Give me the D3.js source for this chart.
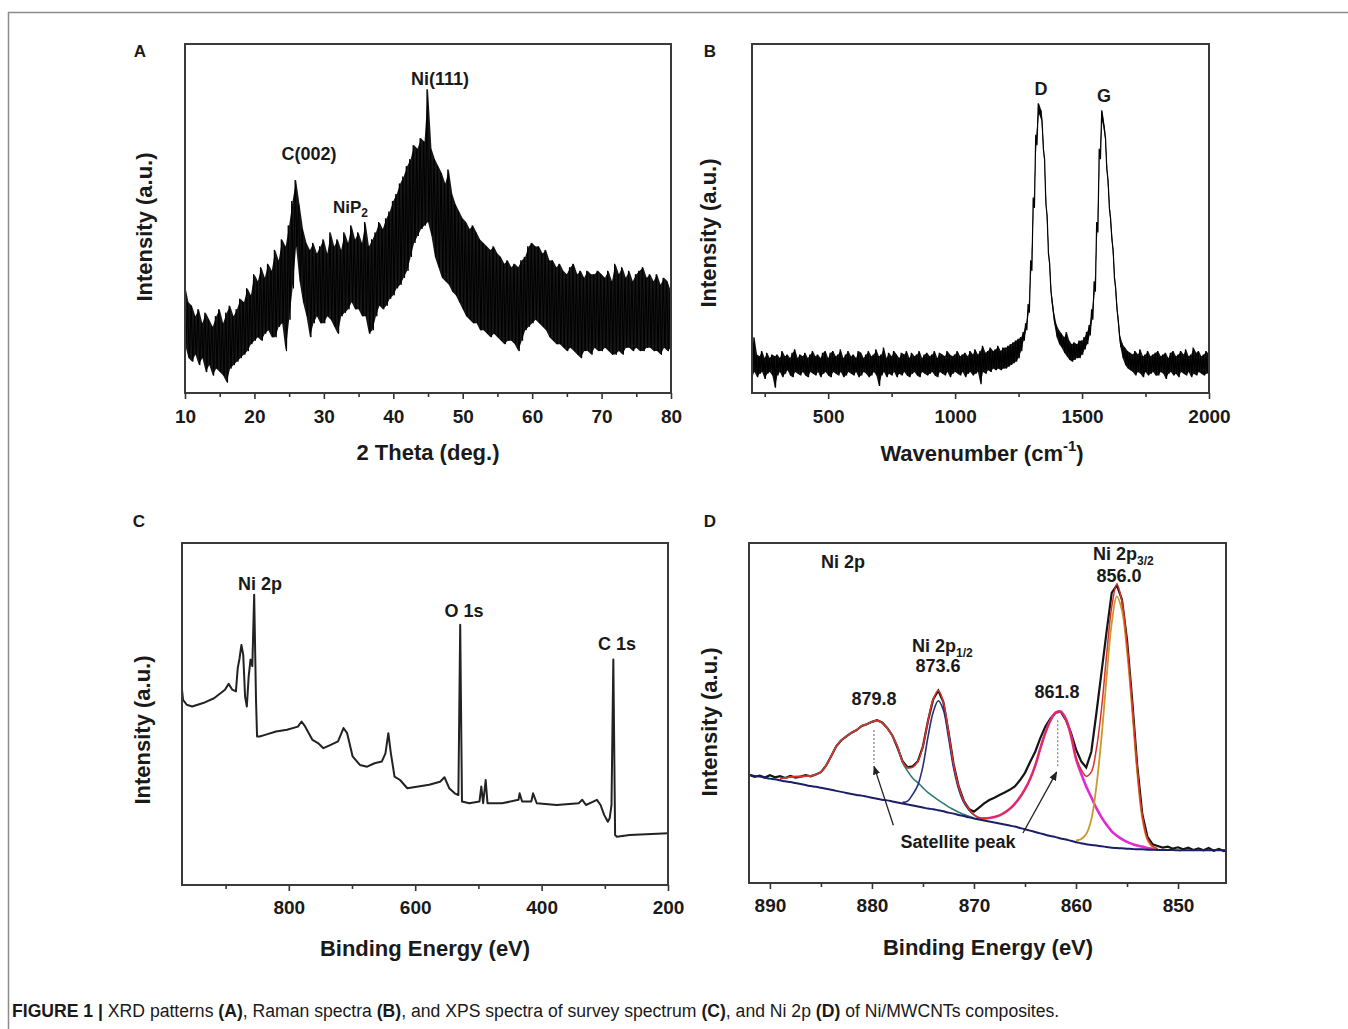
<!DOCTYPE html>
<html lang="en">
<head>
<meta charset="UTF-8">
<script src="https://cdn.jsdelivr.net/npm/d3@7"></script>
<title>Figure 1 - Ni/MWCNTs</title>
<style>
  body { margin: 0; background: #fff; }
  svg text { font-family: "Liberation Sans", Arial, Helvetica, sans-serif; fill: #1a1a1a; }
</style>
</head>
<body>
<svg id="fig" width="1348" height="1029"></svg>
<script>
/* ---------- DATA (intensities in % of the plot height) ---------- */

// A: XRD, min / max of the counts in each 0.5 deg bin, 2theta 10 ... 80
const xrdStart = 10, xrdStep = 0.5;
const xrdHi = [
  31, 26, 25, 22, 24, 20, 23, 21, 19, 22,
  24, 20, 23, 25, 22, 24, 27, 26, 30, 28,
  34, 32, 36, 33, 37, 35, 41, 38, 44, 42,
  48, 55, 61, 54, 47, 43, 41, 43, 40, 42,
  44, 40, 46, 42, 44, 41, 46, 43, 48, 44,
  46, 43, 49, 42, 44, 46, 49, 47, 50, 52,
  55, 57, 60, 62, 65, 67, 71, 70, 73, 72,
  87, 70, 67, 65, 63, 60, 64, 57, 54, 52,
  50, 49, 47, 48, 46, 44, 43, 42, 41, 42,
  40, 39, 37, 38, 36, 37, 36, 38, 39, 42,
  43, 42, 42, 40, 41, 38, 38, 36, 37, 35,
  34, 36, 37, 34, 35, 33, 35, 34, 34, 35,
  34, 33, 35, 32, 37, 34, 36, 33, 35, 32,
  34, 35, 36, 33, 34, 32, 34, 31, 33, 32,
  29
];
const xrdLo = [
  14, 10, 9, 11, 8, 10, 6, 8, 5, 7,
  6, 5, 3, 7, 8, 9, 10, 11, 12, 14,
  15, 16, 15, 17, 18, 16, 16, 19, 20, 12,
  21, 30, 42, 32, 26, 22, 16, 20, 22, 20,
  20, 22, 21, 19, 17, 22, 23, 24, 26, 24,
  24, 22, 22, 17, 18, 22, 25, 24, 25, 27,
  28, 30, 31, 33, 35, 39, 43, 45, 47, 48,
  49, 45, 39, 36, 33, 32, 31, 29, 28, 26,
  24, 22, 21, 20, 20, 18, 18, 17, 16, 17,
  16, 15, 14, 15, 15, 14, 12, 15, 18, 19,
  20, 21, 20, 19, 18, 16, 15, 14, 14, 13,
  12, 13, 12, 11, 10, 12, 12, 11, 13, 12,
  12, 13, 12, 11, 11, 12, 11, 13, 13, 12,
  13, 12, 12, 13, 13, 12, 12, 11, 13, 12,
  13
];
const xrdTicks = [10, 20, 30, 40, 50, 60, 70, 80];
const xrdMinor = [15, 25, 35, 45, 55, 65, 75];

// B: Raman, min / max in each 10 cm-1 bin, 200 ... 2000 cm-1
const ramanStart = 200, ramanStep = 10;
const ramanHi = [
  12, 16, 11, 10.5, 12, 10, 11.5, 10, 11, 10.5,
  11, 10, 12, 10.5, 11, 10, 11.5, 12.5, 10, 11,
  10.5, 11.5, 10, 11, 12, 10.5, 11, 10, 11.5, 12,
  10, 11.5, 12, 10.5, 11, 12.5, 10, 11, 12, 10.5,
  11, 10, 12, 11.5, 10, 11, 12, 10.5, 11, 12.5,
  10.5, 11, 13, 10, 11.5, 10.5, 12, 11, 10, 11.5,
  11, 12, 10, 11.5, 10.5, 11, 12, 10, 11, 11.5,
  10.5, 11, 12, 10, 11.5, 11, 10.5, 12, 11, 10.5,
  11, 12, 10.5, 11, 11.5, 10.5, 12, 11, 12.5, 11,
  12, 13.5, 11.5, 12, 13, 12, 12.5, 13.5, 12, 13,
  13, 13.5, 14, 14.5, 15, 15.5, 16, 17.5, 20, 25.5,
  38, 56, 74, 83, 81, 70, 54, 40, 29, 23,
  19.5, 18, 17, 16, 17.5, 15, 14, 14.5, 14, 15,
  15, 16, 17.5, 19.5, 24, 32, 49, 70, 81, 76,
  64, 53, 44, 33, 24, 16.5, 14, 13, 12, 11.5,
  11, 12, 11, 12.5, 10.5, 11, 12, 10.5, 11, 11.5,
  12, 10.5, 11, 11.5, 10, 11.5, 12, 10.5, 11, 12,
  11, 12.5, 10.5, 11, 13, 11.5, 12, 10.5, 11, 12,
  11
];
const ramanLo = [
  5, 6, 4.5, 5.5, 6, 4, 5.5, 6, 5, 1.5,
  5, 6, 4.5, 5.5, 6.5, 5, 4.5, 6, 5.5, 5,
  6, 5, 4.5, 6, 5.5, 5, 6, 4.5, 5.5, 6,
  5, 4.5, 6, 5.5, 5, 6, 4.5, 5, 6, 5.5,
  5, 6, 4.5, 5, 6, 5.5, 4.5, 5, 6, 5,
  2, 5, 6, 4.5, 5.5, 5, 6, 4.5, 5.5, 5,
  6, 5, 4.5, 5.5, 6, 5, 4.5, 6, 5.5, 5,
  5.5, 6, 5, 4.5, 6, 5.5, 5, 6, 4.5, 5.5,
  6, 5.5, 5, 6, 4.5, 5.5, 6, 5, 5.5, 6,
  2.5, 6, 5.5, 6.5, 6, 7, 6.5, 7, 6.5, 7,
  7, 7.5, 8, 8.5, 9, 10, 12, 15, 18, 23,
  35, 53, 71, 80, 78, 67, 51, 37, 26, 20,
  16, 14, 13, 11.5, 10.5, 9.5, 9, 9.5, 10, 10,
  11, 12.5, 14, 16.5, 21, 29, 46, 67, 78, 73,
  61, 50, 41, 30, 21, 13.5, 10, 8, 7, 6.5,
  6, 5, 6, 5.5, 4.5, 6, 5, 5.5, 6, 5,
  5, 6, 5.5, 4, 5.5, 6, 5, 5.5, 4.5, 6,
  5.5, 5, 6, 4.5, 5.5, 5, 6, 5.5, 5, 5.5,
  6
];
const ramanTicks = [500, 1000, 1500, 2000];
const ramanMinor = [250, 750, 1250, 1750];

// C: XPS survey
const surveyEnergy = [
  969, 967.3, 961.5, 952.9, 935.6, 918.3, 901, 895.2, 889.4, 883.7,
  880.8, 877.9, 875, 872.1, 869.2, 866.4, 863.5, 860.6, 857.7, 854.8,
  851.9, 850.2, 846.2, 837.5, 820.2, 802.9, 785.6, 779.8, 774, 762.5,
  753.8, 745.2, 733.7, 722.1, 713.5, 707.7, 699, 687.5, 676, 664.4,
  652.9, 647.1, 642.5, 638.5, 632.7, 624, 612.5, 595.2, 577.9, 560.6,
  553.7, 546.2, 537.5, 531.7, 528.8, 526, 514.4, 498.3, 495.4, 492.5,
  488.5, 485.6, 462.5, 436.5, 434.8, 430.8, 416.3, 413.5, 407.7, 376,
  341.3, 335.6, 329.8, 318.3, 312.5, 306.7, 301, 295.2, 292.3, 289.4,
  286.5, 283.7, 280.8, 260.6, 200
];
const surveyIntensity = [
  57.1, 54.1, 52.7, 52.2, 53.2, 54.6, 57.1, 58.8, 57.1, 56.6,
  63.4, 66.3, 70.2, 67.3, 55.1, 52.2, 61.0, 65.9, 64.0, 84.9,
  54.1, 43.4, 43.4, 43.9, 44.9, 45.4, 46.3, 47.8, 46.3, 42.4,
  41.5, 40.0, 41.0, 42.0, 45.9, 44.4, 37.6, 35.1, 34.6, 35.6,
  36.1, 38.5, 44.4, 38.5, 31.7, 30.7, 28.3, 28.8, 29.3, 30.2,
  31.5, 28.3, 26.8, 26.3, 76.1, 24.4, 23.9, 24.4, 28.8, 23.9,
  30.7, 23.9, 23.9, 24.9, 26.8, 24.4, 24.4, 26.8, 23.9, 23.4,
  23.9, 24.9, 23.4, 24.4, 24.9, 23.4, 20.5, 18.5, 19.5, 23.4,
  65.9, 14.6, 14.1, 14.6, 15.1
];
const surveyTicks = [800, 600, 400, 200];
const surveyMinor = [900, 700, 500, 300];

// D: Ni 2p high resolution, 892 ... 845 eV in 0.5 eV steps
const ni2pStart = 892, ni2pStep = -0.5;
const ni2pRaw = [
  31.8, 31.2, 31.6, 31.0, 31.7, 31.1, 31.4, 30.9, 31.5, 31.0,
  31.3, 31.7, 31.4, 31.9, 32.6, 34.5, 37.3, 40.2, 42.0, 43.1,
  44.2, 45.0, 46.2, 46.7, 47.4, 47.9, 47.2, 45.6, 43.4, 39.8,
  35.8, 34.0, 34.3, 35.8, 40.2, 47.8, 54.0, 56.6, 53.2, 44.5,
  35.0, 28.4, 24.2, 21.8, 21.0, 22.2, 23.4, 24.4, 25.1, 25.9,
  26.6, 27.4, 28.4, 30.2, 32.4, 35.6, 38.6, 42.6, 46.0, 48.4,
  50.1, 50.4, 48.0, 44.2, 39.3, 35.8, 34.0, 38.6, 50.0, 62.0,
  74.0, 85.3, 87.6, 83.4, 71.5, 54.0, 34.5, 20.2, 13.6, 11.4,
  10.9, 10.4, 10.7, 10.1, 10.5, 9.9, 10.4, 9.7, 10.2, 9.6,
  10.3, 9.5, 10.0, 9.4, 9.9
];
const ni2pBackground = [
  31.8, 31.5, 31.3, 31.0, 30.7, 30.5, 30.2, 29.9, 29.7, 29.4,
  29.1, 28.8, 28.5, 28.3, 28.0, 27.7, 27.4, 27.1, 26.8, 26.5,
  26.2, 25.9, 25.7, 25.4, 25.1, 24.8, 24.5, 24.3, 24.0, 23.7,
  23.4, 23.1, 22.8, 22.5, 22.2, 21.9, 21.7, 21.4, 21.1, 20.7,
  20.4, 20.0, 19.7, 19.3, 19.0, 18.7, 18.4, 18.1, 17.8, 17.5,
  17.2, 16.9, 16.6, 16.2, 15.8, 15.4, 15.0, 14.6, 14.2, 13.8,
  13.5, 13.1, 12.8, 12.4, 12.0, 11.7, 11.4, 11.2, 11.0, 10.8,
  10.6, 10.4, 10.3, 10.2, 10.1, 10.0, 9.9, 9.9, 9.8, 9.8,
  9.7, 9.7, 9.7, 9.7, 9.6, 9.6, 9.6, 9.6, 9.6, 9.6,
  9.6, 9.6, 9.6, 9.6, 9.6
];
// fitted components: [binding energy, height above background]
const sat880 = [
  [889, 0.5], [888.5, 1], [888, 1.5], [887.5, 1.9], [887, 2.2], [886.5, 2.6], [886, 3], [885.5, 3.6],
  [885, 4.6], [884.5, 6.8], [884, 9.9], [883.5, 13.1], [883, 15.2], [882.5, 16.6], [882, 18],
  [881.5, 19.1], [881, 20.5], [880.5, 21.3], [880, 22.3], [879.5, 23], [879, 22.6], [878.5, 21.2],
  [878, 19.3], [877.5, 16.5], [877, 12], [876.5, 9.8], [876, 8], [875.5, 7], [875, 5.8], [874.5, 4.7],
  [874, 3.8], [873.5, 3], [873, 2.3], [872.5, 1.7], [872, 1.2], [871.5, 0.8], [871, 0.5], [870.5, 0.3], [870, 0.1]
];
const peak873 = [
  [877, 0.3], [876.5, 1], [876, 3.3], [875.5, 6.3], [875, 12.2], [874.5, 21.2], [874, 28.5], [873.5, 32.2],
  [873, 29.8], [872.5, 22.1], [872, 13.4], [871.5, 7.6], [871, 4], [870.5, 2.2], [870, 1], [869.5, 0.3]
];
const sat862 = [
  [869.5, 0.3], [869, 0.6], [868.5, 1], [868, 1.6], [867.5, 2.4], [867, 3.5], [866.5, 4.9], [866, 6.7],
  [865.5, 9], [865, 11.8], [864.5, 15.2], [864, 19.5], [863.5, 25], [863, 30], [862.5, 34], [862, 36.6],
  [861.5, 37.3], [861, 35.5], [860.5, 31], [860, 24.5], [859.5, 20.5], [859, 17], [858.5, 14], [858, 11],
  [857.5, 8.5], [857, 6.5], [856.5, 4.8], [856, 3.6], [855.5, 2.7], [855, 2], [854.5, 1.5], [854, 1.1],
  [853.5, 0.8], [853, 0.5], [852.5, 0.3], [852, 0.2]
];
const peak856 = [
  [860, 0.5], [859.5, 1.2], [859, 3], [858.5, 7.5], [858, 17.5], [857.5, 32], [857, 50], [856.5, 66],
  [856, 74], [855.5, 70], [855, 58], [854.5, 41], [854, 22.5], [853.5, 9], [853, 2.8], [852.5, 0.8], [852, 0.2]
];
const ni2pTicks = [890, 880, 870, 860, 850];
const ni2pMinor = [885, 875, 865, 855];

/* ---------- DRAWING ---------- */
const svg = d3.select("#fig");
const ink = "#1a1a1a";

// thin frame round the figure (top and left edge of the page box)
svg.append("path")
  .attr("d", "M8.5,1029 V12.5 H1348")
  .attr("fill", "none").attr("stroke", "#8c8c8c").attr("stroke-width", 1.5);

const defs = svg.append("defs");
defs.append("marker").attr("id", "arrow")
  .attr("viewBox", "0 0 10 10").attr("refX", 9).attr("refY", 5)
  .attr("markerWidth", 7).attr("markerHeight", 7).attr("orient", "auto")
  .append("path").attr("d", "M0,1 L10,5 L0,9 z").attr("fill", "#222");

function panel(o) {
  const x = d3.scaleLinear().domain(o.xDomain).range([o.x0, o.x1]);
  const y = d3.scaleLinear().domain([0, 100]).range([o.y1, o.y0]);
  const g = svg.append("g");

  defs.append("clipPath").attr("id", "clip" + o.letter)
    .append("rect").attr("x", o.x0).attr("y", o.y0)
    .attr("width", o.x1 - o.x0).attr("height", o.y1 - o.y0);
  const plot = g.append("g").attr("clip-path", `url(#clip${o.letter})`);

  const minor = g.append("g").attr("transform", `translate(0,${o.y1})`)
    .call(d3.axisBottom(x).tickValues(o.minor).tickSize(4).tickSizeOuter(0).tickFormat(""));
  const major = g.append("g").attr("transform", `translate(0,${o.y1})`)
    .call(d3.axisBottom(x).tickValues(o.major).tickSize(6).tickSizeOuter(0)
      .tickPadding(o.pad).tickFormat(d3.format("d")));
  [minor, major].forEach(a => {
    a.select(".domain").remove();
    a.selectAll(".tick line").attr("stroke", "#333").attr("stroke-width", 1.6);
  });
  major.selectAll(".tick text")
    .style("font-family", '"Liberation Sans", Arial, sans-serif')
    .attr("font-size", 19).attr("font-weight", "bold").attr("fill", ink);

  // plot frame
  g.append("rect").attr("x", o.x0).attr("y", o.y0)
    .attr("width", o.x1 - o.x0).attr("height", o.y1 - o.y0)
    .attr("fill", "none").attr("stroke", "#3a3a3a").attr("stroke-width", 2);

  // panel letter
  svg.append("text").attr("x", o.letterPos[0]).attr("y", o.letterPos[1])
    .attr("text-anchor", "middle").attr("font-size", 17).attr("font-weight", "bold")
    .text(o.letter);

  // y title
  svg.append("text")
    .attr("transform", `translate(${o.yTitlePos[0]},${o.yTitlePos[1]}) rotate(-90)`)
    .attr("text-anchor", "middle").attr("font-size", 22).attr("font-weight", "bold")
    .text("Intensity (a.u.)");

  // x title
  const xt = svg.append("text").attr("x", o.xTitlePos[0]).attr("y", o.xTitlePos[1])
    .attr("text-anchor", "middle").attr("font-size", 22).attr("font-weight", "bold");
  o.xTitle(xt);

  return { x, y, plot };
}

function label(str, px, py, size, anchor) {
  return svg.append("text").attr("x", px).attr("y", py)
    .attr("text-anchor", anchor || "middle").attr("font-size", size || 18)
    .attr("font-weight", "bold").text(str);
}

// min/max bins -> zig-zag trace
function binTrace(start, step, hi, lo) {
  const pts = [];
  hi.forEach((h, i) => {
    const c = start + step * i;
    pts.push([c - step / 4, h], [c + step / 4, lo[i]]);
  });
  return pts;
}

// dense noisy spectrum: filled band between bin minima and maxima plus the zig-zag on top
function noisyBand(P, start, step, hi, lo, width) {
  const bins = hi.map((h, i) => ({ c: start + step * i, h, l: lo[i] }));
  P.plot.append("path").datum(bins)
    .attr("fill", "#161616")
    .attr("d", d3.area().x(d => P.x(d.c)).y0(d => P.y(d.l)).y1(d => P.y(d.h)));
  P.plot.append("path")
    .datum(binTrace(start, step, hi, lo))
    .attr("fill", "none").attr("stroke", "#000").attr("stroke-width", width)
    .attr("d", d3.line().x(d => P.x(d[0])).y(d => P.y(d[1])));
}

/* ----- A: XRD ----- */
const A = panel({
  letter: "A", xDomain: [10, 80], x0: 185, x1: 671, y0: 44, y1: 393, pad: 11,
  major: xrdTicks, minor: xrdMinor,
  letterPos: [140, 57], yTitlePos: [152, 227], xTitlePos: [428, 460],
  xTitle: t => t.text("2 Theta (deg.)")
});
noisyBand(A, xrdStart, xrdStep, xrdHi, xrdLo, 1);
label("Ni(111)", 440, 85);
label("C(002)", 309, 160);
const nip = label("NiP", 333, 213, 17, "start");
nip.append("tspan").attr("font-size", 12).attr("dy", 4).text("2");

/* ----- B: Raman ----- */
const B = panel({
  letter: "B", xDomain: [200, 2000], x0: 752, x1: 1209, y0: 44, y1: 393, pad: 11,
  major: ramanTicks, minor: ramanMinor,
  letterPos: [710, 57], yTitlePos: [716, 233], xTitlePos: [982, 461],
  xTitle: t => {
    t.append("tspan").text("Wavenumber (cm");
    t.append("tspan").attr("font-size", 15).attr("dy", -10).text("-1");
    t.append("tspan").attr("dy", 10).text(")");
  }
});
noisyBand(B, ramanStart, ramanStep, ramanHi, ramanLo, 1.2);
label("D", 1041, 95);
label("G", 1104, 102);

/* ----- C: XPS survey ----- */
const C = panel({
  letter: "C", xDomain: [969, 200], x0: 182, x1: 668, y0: 543, y1: 885, pad: 10,
  major: surveyTicks, minor: surveyMinor,
  letterPos: [139, 527], yTitlePos: [150, 730], xTitlePos: [425, 956],
  xTitle: t => t.text("Binding Energy (eV)")
});
C.plot.append("path")
  .datum(d3.zip(surveyEnergy, surveyIntensity))
  .attr("fill", "none").attr("stroke", "#222").attr("stroke-width", 2)
  .attr("stroke-linejoin", "round")
  .attr("d", d3.line().x(d => C.x(d[0])).y(d => C.y(d[1])));
label("Ni 2p", 260, 590);
label("O 1s", 464, 617);
label("C 1s", 617, 650);

/* ----- D: Ni 2p ----- */
const D = panel({
  letter: "D", xDomain: [892.05, 845.3], x0: 749, x1: 1226, y0: 543, y1: 883, pad: 9.5,
  major: ni2pTicks, minor: ni2pMinor,
  letterPos: [710, 527], yTitlePos: [717, 722], xTitlePos: [988, 955],
  xTitle: t => t.text("Binding Energy (eV)")
});
const energyAt = i => ni2pStart + ni2pStep * i;
const bgByE = new Map(ni2pBackground.map((v, i) => [energyAt(i).toFixed(1), v]));
const onBg = comp => comp.map(([e, h]) => [e, bgByE.get(e.toFixed(1)) + h]);
const envelope = ni2pBackground.map((v, i) => {
  const key = energyAt(i).toFixed(1);
  let s = v;
  [sat880, peak873, sat862, peak856].forEach(c => {
    const hit = c.find(p => p[0].toFixed(1) === key);
    if (hit) s += hit[1];
  });
  return [energyAt(i), s];
});
const dLine = d3.line().x(d => D.x(d[0])).y(d => D.y(d[1])).curve(d3.curveCatmullRom);

D.plot.append("path").datum(ni2pRaw.map((v, i) => [energyAt(i), v]))
  .attr("fill", "none").attr("stroke", "#151515").attr("stroke-width", 2.2)
  .attr("d", d3.line().x(d => D.x(d[0])).y(d => D.y(d[1])));
[
  [sat862, "#e22ad4", 2.6],
  [sat880, "#2f7b72", 1.6],
  [peak873, "#25307c", 1.6],
  [peak856, "#c99a2a", 1.8]
].forEach(([c, col, w]) => {
  D.plot.append("path").datum(onBg(c))
    .attr("fill", "none").attr("stroke", col).attr("stroke-width", w)
    .attr("d", dLine);
});
D.plot.append("path").datum(envelope.filter(d => d[0] <= 889 && d[0] >= 852))
  .attr("fill", "none").attr("stroke", "#e0302a").attr("stroke-width", 1.5)
  .attr("d", dLine);
D.plot.append("path").datum(ni2pBackground.map((v, i) => [energyAt(i), v]))
  .attr("fill", "none").attr("stroke", "#1d1f66").attr("stroke-width", 2)
  .attr("d", dLine);

// peak markers
[[879.8, 45, 35.3], [861.8, 47.9, 34.1]].forEach(([e, top, bot]) => {
  svg.append("line")
    .attr("x1", D.x(e)).attr("x2", D.x(e)).attr("y1", D.y(top)).attr("y2", D.y(bot))
    .attr("stroke", "#888").attr("stroke-width", 1.3).attr("stroke-dasharray", "2,2");
});
[[877.9, 17, 879.8, 34.3], [865.2, 14.7, 861.9, 32.6]].forEach(([e0, v0, e1, v1]) => {
  svg.append("line")
    .attr("x1", D.x(e0)).attr("y1", D.y(v0)).attr("x2", D.x(e1)).attr("y2", D.y(v1))
    .attr("stroke", "#222").attr("stroke-width", 1.3).attr("marker-end", "url(#arrow)");
});

label("Ni 2p", 843, 568);
const p32 = label("Ni 2p", 1093, 560, 18, "start");
p32.append("tspan").attr("font-size", 12).attr("dy", 5).text("3/2");
label("856.0", 1119, 582);
const p12 = label("Ni 2p", 912, 652, 18, "start");
p12.append("tspan").attr("font-size", 12).attr("dy", 5).text("1/2");
label("873.6", 938, 672);
label("879.8", 874, 705);
label("861.8", 1057, 698);
label("Satellite peak", 958, 848);

/* ----- caption ----- */
const cap = svg.append("text").attr("x", 12).attr("y", 1017)
  .attr("font-size", 17.6).attr("fill", "#222");
[
  ["FIGURE 1 |", true], [" XRD patterns ", false], ["(A)", true], [", Raman spectra ", false],
  ["(B)", true], [", and XPS spectra of survey spectrum ", false], ["(C)", true],
  [", and Ni 2p ", false], ["(D)", true], [" of Ni/MWCNTs composites.", false]
].forEach(([s, b]) => {
  cap.append("tspan").attr("font-weight", b ? "bold" : "normal").text(s);
});
</script>
</body>
</html>
